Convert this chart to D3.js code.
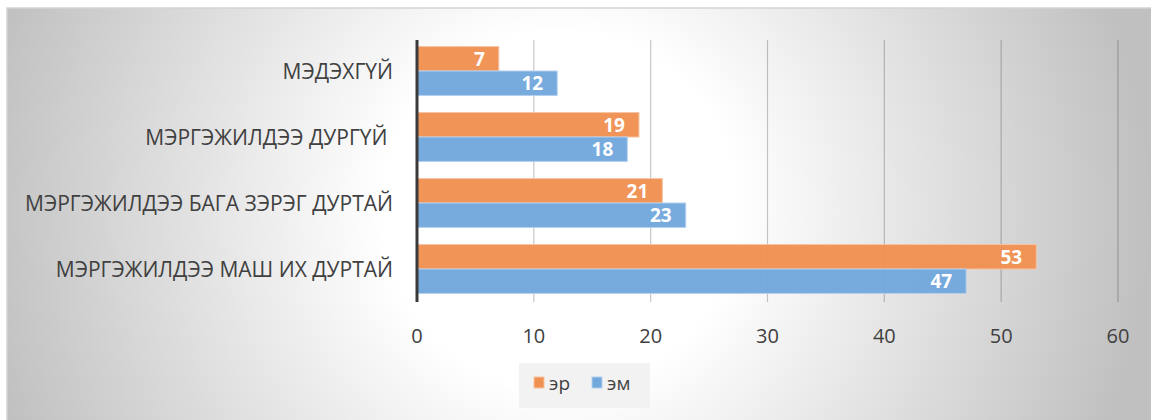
<!DOCTYPE html>
<html>
<head>
<meta charset="utf-8">
<script src="https://cdn.jsdelivr.net/npm/d3@7"></script>
<style>
  body { margin: 0; background: #fff; }
  text { font-family: "Open Sans", "Noto Sans", sans-serif; }
</style>
</head>
<body>
<svg id="chart" width="1151" height="420"></svg>
<script>
// categories, top to bottom
var categories = ["МЭДЭХГҮЙ", "МЭРГЭЖИЛДЭЭ ДУРГҮЙ ", "МЭРГЭЖИЛДЭЭ БАГА ЗЭРЭГ ДУРТАЙ", "МЭРГЭЖИЛДЭЭ МАШ ИХ ДУРТАЙ"];
var seriesNames = ["эр", "эм"];
var erValues = [7, 19, 21, 53];
var emValues = [12, 18, 23, 47];
var xTicks = [0, 10, 20, 30, 40, 50, 60];

var colors = {"эр": "#ef9152", "эм": "#73a8dc"};
var borders = {"эр": "#f6c3a0", "эм": "#b3d0ee"};

var svg = d3.select("#chart");

// background gradient
var defs = svg.append("defs");
var grad = defs.append("radialGradient")
    .attr("id", "bg")
    .attr("gradientUnits", "userSpaceOnUse")
    .attr("cx", 560).attr("cy", 210).attr("r", 590);
grad.append("stop").attr("offset", 0).attr("stop-color", "#ffffff");
grad.append("stop").attr("offset", 0.3).attr("stop-color", "#ffffff");
grad.append("stop").attr("offset", 1).attr("stop-color", "#c0c0c0");

svg.append("rect")
    .attr("x", 7).attr("y", 8)
    .attr("width", 1160).attr("height", 420)
    .attr("fill", "url(#bg)")
    .attr("stroke", "#d4d4d4")
    .attr("stroke-width", 1.5);

// scales
var x = d3.scaleLinear().domain([0, 60]).range([417, 1118]);
var y = d3.scaleBand().domain(categories).range([38, 302])
    .paddingInner(0.26).paddingOuter(0.13);
var ySub = d3.scaleBand().domain(seriesNames).range([0, y.bandwidth()]);

// gridlines
svg.append("g").selectAll("line")
    .data(xTicks.slice(1))
    .join("line")
    .attr("x1", d => x(d)).attr("x2", d => x(d))
    .attr("y1", 40).attr("y2", 302)
    .attr("stroke", "rgba(0,0,0,0.22)")
    .attr("stroke-width", 1.2);

// bars
var rows = [];
categories.forEach((c, i) => {
    rows.push({cat: c, s: "эр", v: erValues[i]});
    rows.push({cat: c, s: "эм", v: emValues[i]});
});

svg.append("g").selectAll("rect")
    .data(rows)
    .join("rect")
    .attr("x", x(0))
    .attr("y", d => y(d.cat) + ySub(d.s))
    .attr("width", d => x(d.v) - x(0))
    .attr("height", ySub.bandwidth())
    .attr("fill", d => colors[d.s])
    .attr("fill-opacity", 0.97)
    .attr("stroke", d => borders[d.s])
    .attr("stroke-width", 1);

// value labels
svg.append("g").selectAll("text")
    .data(rows)
    .join("text")
    .attr("x", d => x(d.v) - 14)
    .attr("y", d => y(d.cat) + ySub(d.s) + ySub.bandwidth() / 2)
    .attr("dy", "0.36em")
    .attr("text-anchor", "end")
    .attr("fill", "#ffffff")
    .attr("font-weight", "bold")
    .attr("font-size", 19)
    .text(d => d.v);

// category axis line
svg.append("line")
    .attr("x1", x(0)).attr("x2", x(0))
    .attr("y1", 40).attr("y2", 302)
    .attr("stroke", "#3a3a3a")
    .attr("stroke-width", 3);

// category labels
svg.append("g").selectAll("text")
    .data(categories)
    .join("text")
    .attr("x", 393)
    .attr("y", d => y(d) + y.bandwidth() / 2)
    .attr("dy", "0.36em")
    .attr("text-anchor", "end")
    .attr("fill", "#404040")
    .attr("font-size", 21)
    .style("white-space", "pre")
    .text(d => d);

// x tick labels
svg.append("g").selectAll("text")
    .data(xTicks)
    .join("text")
    .attr("x", d => x(d))
    .attr("y", 336)
    .attr("dy", "0.36em")
    .attr("text-anchor", "middle")
    .attr("fill", "#404040")
    .attr("font-size", 20)
    .text(d => d);

// legend
var legend = svg.append("g");
legend.append("rect")
    .attr("x", 519).attr("y", 363)
    .attr("width", 131).attr("height", 45)
    .attr("fill", "#f2f2f2");
var legX = [534, 592];
seriesNames.forEach((s, i) => {
    legend.append("rect")
        .attr("x", legX[i]).attr("y", 377)
        .attr("width", 10).attr("height", 11)
        .attr("fill", colors[s])
        .attr("stroke", borders[s]);
    legend.append("text")
        .attr("x", legX[i] + 15)
        .attr("y", 383)
        .attr("dy", "0.36em")
        .attr("fill", "#404040")
        .attr("font-size", 19)
        .text(s);
});
</script>
</body>
</html>
